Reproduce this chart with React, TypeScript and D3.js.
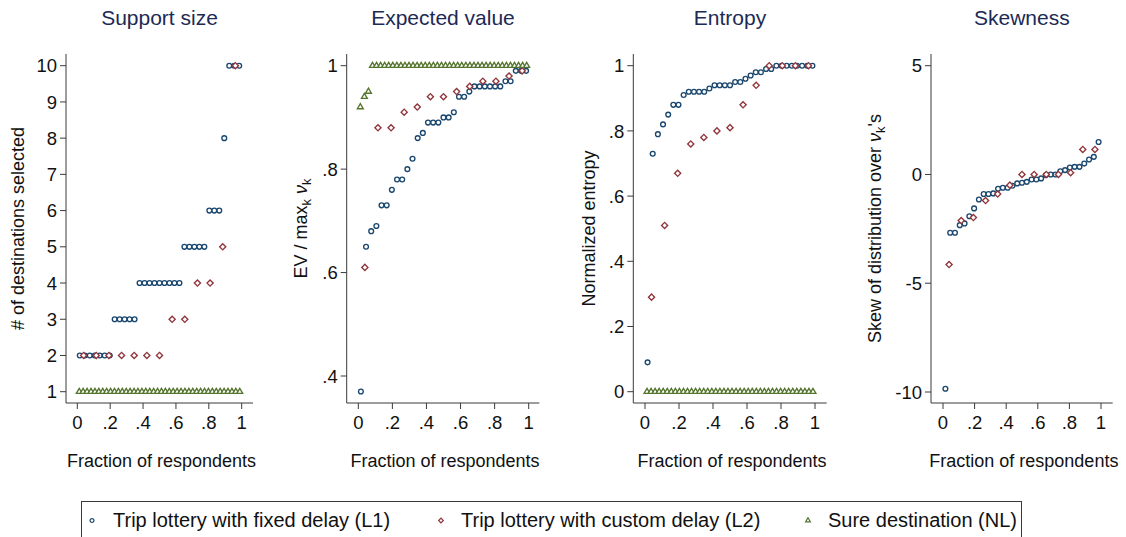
import React from 'react';
import * as d3 from 'd3';

// ---------------- DATA ----------------
const fractionTicks = [0, 0.2, 0.4, 0.6, 0.8, 1];

const l1Support = [2, 2, 2, 2, 2, 2, 2, 3, 3, 3, 3, 3, 4, 4, 4, 4, 4, 4, 4, 4, 4, 5, 5, 5, 5, 5, 6, 6, 6, 8, 10, 10, 10];
const l2Support = [2, 2, 2, 2, 2, 2, 2, 3, 3, 4, 4, 5, 10];
const nlSupport = [1, 1, 1, 1, 1, 1, 1, 1, 1, 1, 1, 1, 1, 1, 1, 1, 1, 1, 1, 1, 1, 1, 1, 1, 1, 1, 1, 1, 1, 1, 1, 1, 1, 1, 1, 1, 1, 1, 1, 1, 1, 1];
const supportTicks = [1, 2, 3, 4, 5, 6, 7, 8, 9, 10];

const l1EV = [0.37, 0.65, 0.68, 0.69, 0.73, 0.73, 0.76, 0.78, 0.78, 0.8, 0.82, 0.86, 0.87, 0.89, 0.89, 0.89, 0.9, 0.9, 0.91, 0.94, 0.94, 0.95, 0.96, 0.96, 0.96, 0.96, 0.96, 0.96, 0.97, 0.97, 0.99, 0.99, 0.99];
const l2EV = [0.61, 0.88, 0.88, 0.91, 0.92, 0.94, 0.94, 0.95, 0.96, 0.97, 0.97, 0.98, 0.99];
const nlEV = [0.92, 0.94, 0.95, 1, 1, 1, 1, 1, 1, 1, 1, 1, 1, 1, 1, 1, 1, 1, 1, 1, 1, 1, 1, 1, 1, 1, 1, 1, 1, 1, 1, 1, 1, 1, 1, 1, 1, 1, 1, 1, 1, 1];
const evTicks = [0.4, 0.6, 0.8, 1];

const l1Entropy = [0.09, 0.73, 0.79, 0.82, 0.85, 0.88, 0.88, 0.91, 0.92, 0.92, 0.92, 0.92, 0.93, 0.94, 0.94, 0.94, 0.94, 0.95, 0.95, 0.96, 0.97, 0.98, 0.98, 0.99, 0.99, 1, 1, 1, 1, 1, 1, 1, 1];
const l2Entropy = [0.29, 0.51, 0.67, 0.76, 0.78, 0.8, 0.81, 0.88, 0.94, 1, 1, 1, 1];
const nlEntropy = [0, 0, 0, 0, 0, 0, 0, 0, 0, 0, 0, 0, 0, 0, 0, 0, 0, 0, 0, 0, 0, 0, 0, 0, 0, 0, 0, 0, 0, 0, 0, 0, 0, 0, 0, 0, 0, 0, 0, 0, 0, 0];
const entropyTicks = [0, 0.2, 0.4, 0.6, 0.8, 1];

const l1Skew = [-9.85, -2.68, -2.68, -2.33, -2.25, -1.92, -1.56, -1.15, -0.9, -0.9, -0.87, -0.66, -0.61, -0.61, -0.52, -0.41, -0.38, -0.34, -0.23, -0.23, -0.18, -0.03, 0, 0, 0.15, 0.2, 0.32, 0.35, 0.35, 0.5, 0.69, 0.81, 1.49];
const l2Skew = [-4.14, -2.12, -1.98, -1.2, -0.9, -0.49, 0, 0, 0, 0, 0.08, 1.15, 1.15];
const nlSkew: number[] = [];
const skewTicks = [-10, -5, 0, 5];

const panelTitles = ['Support size', 'Expected value', 'Entropy', 'Skewness'];
const xTitle = 'Fraction of respondents';
const legendLabels = ['Trip lottery with fixed delay (L1)', 'Trip lottery with custom delay (L2)', 'Sure destination (NL)'];

// ---------------- STYLE ----------------
const FONT = '"Liberation Sans", Arial, Helvetica, sans-serif';
const C_L1 = '#1a476f';
const C_L2 = '#90353b';
const C_NL = '#55752f';
const C_TITLE = '#1c2a55';
const C_AXIS = '#3a3a3a';

const fmt = (v: number) => String(v).replace(/^0\./, '.').replace(/^-0\./, '-.');

type Panel = {
  title: string;
  l1: number[]; l2: number[]; nl: number[];
  yTicks: number[];
  ax0: number; ax1: number; px0: number; px1: number;
  ty0: number; ty1: number; yLabelX: number;
  ylabel: React.ReactNode;
};

const yTop = 54, yBottom = 403;

const panels: Panel[] = [
  {
    title: panelTitles[0], l1: l1Support, l2: l2Support, nl: nlSupport, yTicks: supportTicks,
    ax0: 66, ax1: 253, px0: 77.3, px1: 241.7, ty0: 391.7, ty1: 65.7, yLabelX: 18,
    ylabel: <>{'# of destinations selected'}</>,
  },
  {
    title: panelTitles[1], l1: l1EV, l2: l2EV, nl: nlEV, yTicks: evTicks,
    ax0: 346.7, ax1: 539.3, px0: 358.3, px1: 528.7, ty0: 376, ty1: 65.7, yLabelX: 301,
    ylabel: (
      <>
        {'EV / max'}
        <tspan dy={4} fontSize={13}>k</tspan>
        <tspan dy={-4} fontStyle="italic">{' \u03bd'}</tspan>
        <tspan dy={4} fontSize={13}>k</tspan>
      </>
    ),
  },
  {
    title: panelTitles[2], l1: l1Entropy, l2: l2Entropy, nl: nlEntropy, yTicks: entropyTicks,
    ax0: 633.3, ax1: 826.7, px0: 645, px1: 815, ty0: 391.7, ty1: 65.7, yLabelX: 589,
    ylabel: <>{'Normalized entropy'}</>,
  },
  {
    title: panelTitles[3], l1: l1Skew, l2: l2Skew, nl: nlSkew, yTicks: skewTicks,
    ax0: 931, ax1: 1112.7, px0: 943, px1: 1101, ty0: 392, ty1: 65.7, yLabelX: 875,
    ylabel: (
      <>
        {'Skew of distribution over '}
        <tspan fontStyle="italic">{'\u03bd'}</tspan>
        <tspan dy={4} fontSize={13}>k</tspan>
        <tspan dy={-4}>{"'s"}</tspan>
      </>
    ),
  },
];

const circlePath = d3.symbol().type(d3.symbolCircle).size(18)()!;
const diamondPath = d3.symbol().type(d3.symbolSquare).size(19)()!;
const trianglePath = d3.symbol().type(d3.symbolTriangle).size(15)()!;
const circleLeg = d3.symbol().type(d3.symbolCircle).size(12)()!;
const diamondLeg = d3.symbol().type(d3.symbolSquare).size(11)()!;
const triangleLeg = d3.symbol().type(d3.symbolTriangle).size(10)()!;

function Marks({ vals, x, y, kind }: { vals: number[]; x: d3.ScaleLinear<number, number>; y: d3.ScaleLinear<number, number>; kind: 'c' | 'd' | 't' }) {
  const n = vals.length;
  const color = kind === 'c' ? C_L1 : kind === 'd' ? C_L2 : C_NL;
  const path = kind === 'c' ? circlePath : kind === 'd' ? diamondPath : trianglePath;
  return (
    <g>
      {vals.map((v, i) => {
        const cx = x((i + 0.5) / n);
        const cy = y(v);
        return (
          <path key={i} d={path}
            transform={`translate(${cx},${cy})${kind === 'd' ? ' rotate(45)' : ''}`}
            fill="white" stroke={color} strokeWidth={1.35} />
        );
      })}
    </g>
  );
}

function PanelView({ p }: { p: Panel }) {
  const x = d3.scaleLinear().domain([0, 1]).range([p.px0, p.px1]);
  const y = d3.scaleLinear().domain([p.yTicks[0], p.yTicks[p.yTicks.length - 1]]).range([p.ty0, p.ty1]);
  const cx = (p.ax0 + p.ax1) / 2;
  const cy = (yTop + yBottom) / 2;
  return (
    <g fontFamily={FONT}>
      <text x={cx} y={25} textAnchor="middle" fontSize={21} fill={C_TITLE}>{p.title}</text>
      <line x1={p.ax0} x2={p.ax0} y1={yTop} y2={yBottom} stroke={C_AXIS} strokeWidth={1} />
      <line x1={p.ax0} x2={p.ax1} y1={yBottom} y2={yBottom} stroke={C_AXIS} strokeWidth={1} />
      {p.yTicks.map((t) => (
        <g key={'y' + t}>
          <line x1={p.ax0 - 6} x2={p.ax0} y1={y(t)} y2={y(t)} stroke={C_AXIS} strokeWidth={1} />
          <text x={p.ax0 - 9} y={y(t)} dy="0.36em" textAnchor="end" fontSize={18.5} fill="#111">{fmt(t)}</text>
        </g>
      ))}
      {fractionTicks.map((t) => (
        <g key={'x' + t}>
          <line x1={x(t)} x2={x(t)} y1={yBottom} y2={yBottom + 6} stroke={C_AXIS} strokeWidth={1} />
          <text x={x(t)} y={429} textAnchor="middle" fontSize={18.5} fill="#111">{fmt(t)}</text>
        </g>
      ))}
      <text x={cx + 2} y={467} textAnchor="middle" fontSize={18} fill="#111">{xTitle}</text>
      <text transform={`translate(${p.yLabelX},${cy}) rotate(-90)`} dy="0.36em" textAnchor="middle" fontSize={18} fill="#111">{p.ylabel}</text>
      <Marks vals={p.l1} x={x} y={y} kind="c" />
      <Marks vals={p.l2} x={x} y={y} kind="d" />
      <Marks vals={p.nl} x={x} y={y} kind="t" />
    </g>
  );
}

export default function App() {
  const legendItems = [
    { label: legendLabels[0], path: circleLeg, color: C_L1, mx: 92, tx: 113, rot: false },
    { label: legendLabels[1], path: diamondLeg, color: C_L2, mx: 441, tx: 461, rot: true },
    { label: legendLabels[2], path: triangleLeg, color: C_NL, mx: 808, tx: 828, rot: false },
  ];
  return (
    <svg width={1126} height={537} style={{ position: 'absolute', left: 0, top: 0, background: 'white' }}>
      <rect x={0} y={0} width={1126} height={537} fill="white" />
      {panels.map((p, i) => <PanelView key={i} p={p} />)}
      <g fontFamily={FONT}>
        <rect x={81.5} y={501.5} width={940} height={50} fill="white" stroke={C_AXIS} strokeWidth={1} />
        {legendItems.map((it, i) => (
          <g key={i}>
            <path d={it.path} transform={`translate(${it.mx},${520.5})${it.rot ? ' rotate(45)' : ''}`} fill="white" stroke={it.color} strokeWidth={1.2} />
            <text x={it.tx} y={527} fontSize={20} fill="#111">{it.label}</text>
          </g>
        ))}
      </g>
    </svg>
  );
}
